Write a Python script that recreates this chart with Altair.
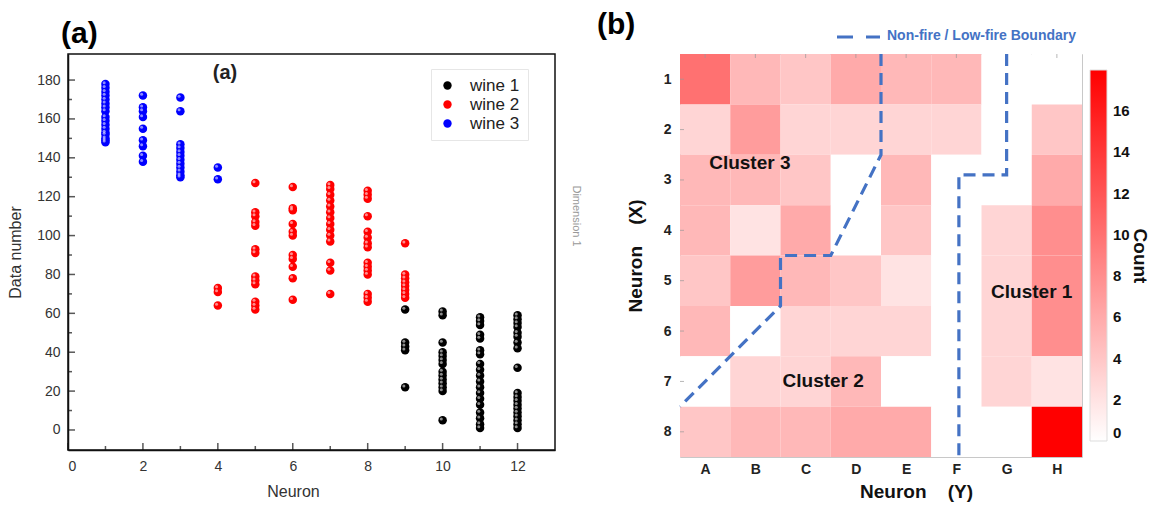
import altair as alt
import pandas as pd

FONT = "Liberation Sans"

# ---------------- Panel (a): neuron index vs data number ----------------
WINE_NAMES = ["wine 1", "wine 2", "wine 3"]
WINE_COLORS = ["#000000", "#FF0000", "#0000FF"]

WINE1 = {
    9: [62, 45, 43, 41, 22],
    10: [61, 59, 45, 40, 38, 36, 34, 30, 28, 26, 24, 22, 20, 5],
    11: [58, 56, 54, 49, 47, 41, 39, 34, 31, 28, 25, 22, 19, 16, 13, 9, 6, 3, 1],
    12: [59, 57, 55, 53, 50, 48, 45, 42, 32, 19, 17, 15, 13, 11, 9, 7, 5, 3, 1],
}
WINE2 = {
    4: [73, 71, 64],
    5: [127, 112, 110, 107, 105, 93, 91, 79, 77, 75, 66, 64, 62],
    6: [125, 114, 113, 106, 102, 100, 90, 88, 84, 78, 67],
    7: [126, 124, 121, 118, 115, 112, 109, 106, 103, 100, 97, 86, 82, 70],
    8: [123, 121, 119, 110, 102, 99, 96, 94, 86, 84, 82, 80, 70, 68, 66],
    9: [96, 80, 78, 76, 74, 72, 70, 68],
}
WINE3 = {
    1: [178, 176, 174, 172, 170, 168, 166, 164, 161, 159, 157, 155, 153, 152, 150, 149, 148],
    2: [172, 166, 164, 161, 155, 149, 146, 141, 138],
    3: [171, 164, 147, 145, 143, 141, 139, 137, 135, 133, 131, 130],
    4: [135, 129],
}

X_MAJOR = [0, 2, 4, 6, 8, 10, 12]
X_MINOR = [1, 3, 5, 7, 9, 11]
Y_MAJOR = [0, 20, 40, 60, 80, 100, 120, 140, 160, 180]
Y_MINOR = [10, 30, 50, 70, 90, 110, 130, 150, 170]

# ---------------- Panel (b): SOM hit map ----------------
COL_LABELS = ["A", "B", "C", "D", "E", "F", "G", "H"]
ROW_LABELS = ["1", "2", "3", "4", "5", "6", "7", "8"]
COUNTS = [
    [10, 5, 4, 6, 5, 5, 0, 0],
    [3, 7, 3, 3, 3, 3, 0, 4],
    [5, 5, 4, 0, 5, 0, 0, 6],
    [5, 2, 6, 0, 4, 0, 3, 8],
    [4, 7, 5, 4, 2, 0, 3, 8],
    [5, 0, 3, 3, 3, 0, 3, 8],
    [0, 3, 3, 5, 0, 0, 3, 2],
    [4, 5, 5, 6, 6, 0, 0, 18],
]
COUNT_TICKS = [0, 2, 4, 6, 8, 10, 12, 14, 16]

BOUNDARY1_X = [4, 4, 3, 2, 2, 0]
BOUNDARY1_Y = [0, 2, 4, 4, 5, 7]
BOUNDARY2_X = [6.5, 6.5, 5.55, 5.55]
BOUNDARY2_Y = [0, 2.4, 2.4, 8]

CLUSTER_TEXT = ["Cluster 3", "Cluster 2", "Cluster 1"]
CLUSTER_X = [1.39, 2.85, 7.0]
CLUSTER_Y = [2.16, 6.49, 4.72]

BLUE = "#4472C4"
NB = "\u00a0"

# ======================= build panel (a) =======================
W_A, H_A = 487, 396
X_LO, X_HI = 0, 13
Y_LO, Y_HI = -10.3, 193.4
rows = []
for name, d in zip(WINE_NAMES, [WINE1, WINE2, WINE3]):
    for n, vals in d.items():
        for v in vals:
            rows.append({"neuron": n, "value": v, "wine": name})
df_a = pd.DataFrame(rows)

xs = alt.Scale(domain=[X_LO, X_HI], nice=False, zero=False)
ys = alt.Scale(domain=[Y_LO, Y_HI], nice=False, zero=False)

ax_a_x = alt.Axis(values=X_MAJOR, title="Neuron", ticks=False, grid=False,
                  domainColor="#111", domainWidth=1.5, labelFontSize=14,
                  labelColor="#333", labelPadding=9, titleFontSize=16,
                  titleFontWeight="normal", titleColor="#333", titlePadding=10,
                  titleX=225)
ax_a_y = alt.Axis(values=Y_MAJOR, title="Data number", ticks=False, grid=False,
                  domainColor="#111", domainWidth=1.5, labelFontSize=14,
                  labelColor="#333", labelPadding=8, titleFontSize=16,
                  titleFontWeight="normal", titleColor="#333", titlePadding=13)
XA = lambda f="neuron": alt.X(f"{f}:Q", scale=xs, axis=ax_a_x)
YA = lambda f="value": alt.Y(f"{f}:Q", scale=ys, axis=ax_a_y)

points = alt.Chart(df_a).mark_circle(size=72, opacity=1).encode(
    x=XA(), y=YA(),
    color=alt.Color("wine:N", scale=alt.Scale(domain=WINE_NAMES, range=WINE_COLORS),
                    legend=alt.Legend(orient="none", legendX=363, legendY=15, title=None,
                                      fillColor="white", strokeColor="#e6e6e6", padding=8,
                                      labelFontSize=17, labelColor="#222", symbolSize=70,
                                      symbolType="circle", labelOffset=14, rowPadding=1,
                                      symbolStrokeWidth=0)),
)

highlight = alt.Chart(df_a).mark_circle(size=9, color="white", opacity=0.55,
                                        xOffset=-1.3, yOffset=-1.3).encode(x=XA(), y=YA())

# inward ticks: tick marks positioned by the scales, offset so they sit inside the frame
ytick_major = alt.Chart(pd.DataFrame({"value": Y_MAJOR})).mark_tick(
    orient="horizontal", size=7, thickness=1.5, color="#111", xOffset=3.5).encode(
    y=YA(), x=alt.value(0))
ytick_minor = alt.Chart(pd.DataFrame({"value": Y_MINOR})).mark_tick(
    orient="horizontal", size=4, thickness=1.5, color="#111", xOffset=2).encode(
    y=YA(), x=alt.value(0))
xtick_major = alt.Chart(pd.DataFrame({"neuron": X_MAJOR})).mark_tick(
    orient="vertical", size=7, thickness=1.5, color="#111", yOffset=-3.5).encode(
    x=XA(), y=alt.value(H_A))
xtick_minor = alt.Chart(pd.DataFrame({"neuron": X_MINOR})).mark_tick(
    orient="vertical", size=4, thickness=1.5, color="#111", yOffset=-2).encode(
    x=XA(), y=alt.value(H_A))

one = pd.DataFrame({"t": [0]})
inner_a = alt.Chart(one).mark_text(text="(a)", fontSize=20, fontWeight="bold",
                                   color="#222").encode(x=alt.value(157), y=alt.value(19))
big_a = alt.Chart(one).mark_text(text="(a)", fontSize=30, fontWeight="bold", color="#000",
                                 align="left", baseline="alphabetic").encode(
    x=alt.value(-7), y=alt.value(-11))
dim_txt = alt.Chart(one).mark_text(text="Dimension 1", fontSize=11, color="#999",
                                   angle=90).encode(x=alt.value(508), y=alt.value(162))

panel_a = alt.layer(points, highlight, ytick_major, ytick_minor, xtick_major, xtick_minor,
                    inner_a, big_a, dim_txt).properties(
    width=W_A, height=H_A,
    view=alt.ViewBackground(stroke="#111", strokeWidth=1.5))

# ======================= build panel (b) =======================
W_B, H_B = 402, 403
cells = []
for r in range(8):
    for c in range(8):
        cells.append({"c0": c, "c1": c + 1, "r0": r, "r1": r + 1, "count": COUNTS[r][c]})
df_b = pd.DataFrame(cells)

xb = alt.Scale(domain=[0, 8], nice=False, zero=False)
yb = alt.Scale(domain=[0, 8], nice=False, zero=False, reverse=True)

letters = "[" + ",".join(f"'{c}'" for c in COL_LABELS) + "][floor(datum.value)]"
numbers = "[" + ",".join(f"'{r}'" for r in ROW_LABELS) + "][floor(datum.value)]"
centers = [i + 0.5 for i in range(8)]

ax_b_x = alt.Axis(values=centers, labelExpr=letters, title=f"Neuron{NB*4}(Y)",
                  ticks=False, domain=False, grid=False, labelFontSize=14,
                  labelFontWeight="bold", labelColor="#222", labelPadding=5,
                  titleFontSize=19, titleFontWeight="bold", titleColor="#111",
                  titlePadding=6, titleX=236)
ax_b_y = alt.Axis(values=centers, labelExpr=numbers, title=f"Neuron{NB*4}(X)",
                  ticks=False, domain=False, grid=False, labelFontSize=14,
                  labelFontWeight="bold", labelColor="#222", labelPadding=9,
                  titleFontSize=19, titleFontWeight="bold", titleColor="#111",
                  titlePadding=18)
XB = lambda: alt.X("c0:Q", scale=xb, axis=ax_b_x)
YB = lambda: alt.Y("r0:Q", scale=yb, axis=ax_b_y)

heat = alt.Chart(df_b).mark_rect().encode(
    x=XB(), x2="c1:Q", y=YB(), y2="r1:Q",
    color=alt.Color("count:Q",
                    scale=alt.Scale(domain=[0, 18], range=["#FFFFFF", "#FF0000"],
                                    interpolate="rgb"),
                    legend=alt.Legend(orient="none", legendX=410, legendY=16, title=None,
                                      direction="vertical", gradientLength=371,
                                      gradientThickness=17, values=COUNT_TICKS,
                                      labelFontSize=15, labelFontWeight="bold",
                                      labelColor="#111", labelOffset=6,
                                      gradientStrokeColor="#dddddd", gradientStrokeWidth=1,
                                      labelOverlap=False)),
)

# small grey ticks at cell centres along the top and left edges, like the reference
top_ticks = alt.Chart(pd.DataFrame({"c0": centers})).mark_tick(
    orient="vertical", size=4, thickness=1, color="#999", yOffset=2).encode(
    x=XB(), y=alt.value(0))
left_ticks = alt.Chart(pd.DataFrame({"r0": centers})).mark_tick(
    orient="horizontal", size=4, thickness=1, color="#999", xOffset=2).encode(
    y=YB(), x=alt.value(0))

lines = []
for i, (bx, by) in enumerate([(BOUNDARY1_X, BOUNDARY1_Y), (BOUNDARY2_X, BOUNDARY2_Y)]):
    for k, (px, py) in enumerate(zip(bx, by)):
        lines.append({"c0": px, "r0": py, "ord": k, "line": f"b{i}"})
df_l = pd.DataFrame(lines)
boundary = alt.Chart(df_l).mark_line(color=BLUE, strokeWidth=3.2, strokeDash=[12, 7],
                                     strokeCap="butt").encode(
    x=XB(), y=YB(), order="ord:Q", detail="line:N")

df_c = pd.DataFrame({"c0": CLUSTER_X, "r0": CLUSTER_Y, "label": CLUSTER_TEXT})
clusters = alt.Chart(df_c).mark_text(fontSize=19, fontWeight="bold", color="#111").encode(
    x=XB(), y=YB(), text="label:N")

leg_rule = alt.Chart(one).mark_rule(color=BLUE, strokeWidth=3.2, strokeDash=[16, 13]).encode(
    x=alt.value(157), x2=alt.value(200), y=alt.value(-17))
leg_text = alt.Chart(one).mark_text(text="Non-fire / Low-fire Boundary", fontSize=14,
                                    fontWeight="bold", color=BLUE, align="left",
                                    baseline="middle").encode(
    x=alt.value(207), y=alt.value(-18))
big_b = alt.Chart(one).mark_text(text="(b)", fontSize=30, fontWeight="bold", color="#000",
                                 align="left", baseline="alphabetic").encode(
    x=alt.value(-83), y=alt.value(-20))
count_txt = alt.Chart(one).mark_text(text="Count", fontSize=19, fontWeight="bold",
                                     color="#111", angle=90).encode(
    x=alt.value(460), y=alt.value(202))

panel_b = alt.layer(heat, top_ticks, left_ticks, boundary, clusters, leg_rule, leg_text,
                    big_b, count_txt).properties(
    width=W_B, height=H_B,
    view=alt.ViewBackground(stroke="#c8c8c8", strokeWidth=1))

chart = alt.hconcat(panel_a, panel_b, spacing=13).resolve_scale(
    color="independent").resolve_legend(color="independent").configure(
    font=FONT, padding={"left": 6, "top": 9, "right": 5, "bottom": 5},
    background="white")

chart.save("out.html", embed_options={"renderer": "svg", "actions": False})
